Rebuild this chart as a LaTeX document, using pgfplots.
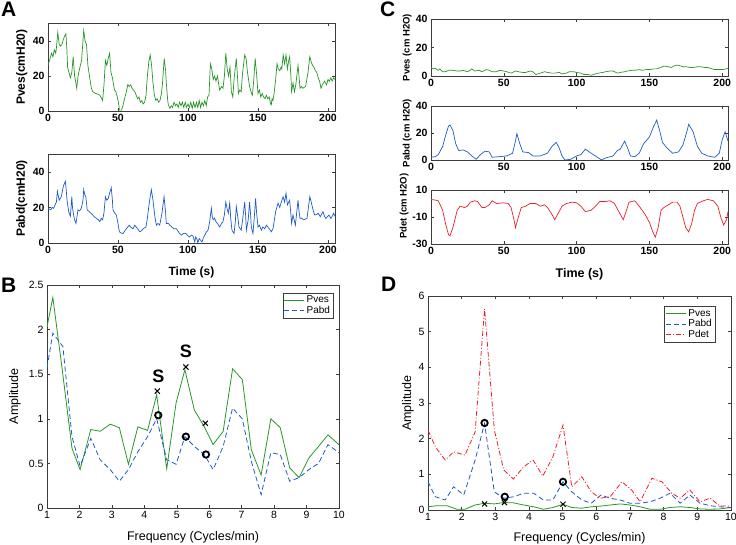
\documentclass[border=0pt]{standalone}
\usepackage{fontspec}
\setmainfont{Liberation Sans}
\usepackage{pgfplots}
\pgfplotsset{compat=1.18}

\definecolor{mgreen}{RGB}{40,150,40}
\definecolor{mblue}{RGB}{30,90,200}
\definecolor{mred}{RGB}{235,30,40}
\definecolor{axgray}{RGB}{60,60,60}

\pgfplotsset{
  mat/.style={scale only axis, axis line style={axgray, line width=0.6pt},
    tick style={axgray, line width=0.5pt}, major tick length=3pt, tick align=inside,
    /pgf/number format/assume math mode=true},
  bold/.style={mat, ticklabel style={font=\fontsize{10.5}{12}\selectfont\bfseries},
    label style={font=\fontsize{12}{14}\selectfont\bfseries}},
  boldc/.style={mat, ticklabel style={font=\fontsize{10.5}{12}\selectfont\bfseries},
    label style={font=\fontsize{9.5}{11}\selectfont\bfseries}},
  reg/.style={mat, ticklabel style={font=\fontsize{10.5}{12}\selectfont},
    label style={font=\fontsize{12.5}{14}\selectfont},
    legend style={draw=axgray, font=\fontsize{10}{11}\selectfont, inner sep=1pt,
      row sep=-2pt, cells={anchor=west}},
    legend image code/.code={\draw[##1] (0pt,0pt) -- (20pt,0pt);}},
  yl/.style={ylabel style={at={(axis description cs:#1,0.5)}, anchor=center, rotate=0}},
  xl/.style={xlabel style={at={(axis description cs:0.5,#1)}, anchor=center}},
}

\begin{document}
\begin{tikzpicture}
\path[use as bounding box] (0pt,0pt) rectangle (736pt,545pt);

% ---------- A: Pves ----------
\begin{axis}[bold, at={(48pt,521.5pt)}, anchor=north west, width=287pt, height=87.5pt,
  xmin=0, xmax=205, ymin=0, ymax=50, xtick={0,50,...,200}, ytick={0,20,40},
  ylabel={Pves(cmH20)}, yl=-0.091]
\addplot[mgreen, line width=0.7pt] coordinates {
(0,26) (1.5,30) (2.5,33) (3.5,31) (4.5,35) (5.5,33) (6,36) (7,45) (8,38) (9,37) (10,38) (11,41) (12,43) (12.8,44) (13.5,35) (14,25) (15,22) (16,19) (17,22) (18,31) (19,20) (19.5,18) (20.5,13) (21.5,20) (22.5,24) (24,29) (25.5,46) (26.5,40) (27.5,38) (28.5,26) (30,18) (31,13) (32,11) (34,10) (36,9.5) (37,9) (38.5,7) (39,6) (40,15) (41,29) (42,26) (43,30) (44,33) (45,22) (46,19) (47.5,12) (48.5,11) (49.5,8) (50.5,4) (51,0.5) (52.5,0.5) (53.5,3) (55,8) (56,11) (57,15) (58,14) (59,15) (60,13) (61,12) (62,11) (63,9) (64,7) (65,8) (66,5) (67,6) (68,4) (69,5) (70,9) (71,20) (72,28) (73,32) (74,26) (75,16) (76,9) (77,6) (78,7) (79,5) (80,6) (81,10) (81.7,15) (83,30) (84,23) (84.5,16) (85.5,6) (86,3.5) (87,1.5) (88,3) (89,2) (90,5) (91,3) (92,4) (93,2) (94,5) (95,3) (96,5) (97,2) (98,5) (99,2) (100,4) (101,2) (102,5) (103,1.5) (104,5) (105,2) (106,5) (107,2) (108,6) (109,2) (110,5) (111,3) (112,6) (113,3) (114,8) (115,9) (116,27) (117,24) (118,18) (119,20) (120,17) (121,20) (122.6,12) (124,14) (125,13) (126,20) (127,33) (128,24) (129,20) (130,25) (131,11) (132,8) (133,19) (134.5,30) (135.5,18) (136,10) (137,12) (138,11) (139,22) (140.5,32) (141.5,30) (142.5,22) (144,14) (145,11) (146,9) (147,18) (148,30) (149,21) (150,10) (151,12) (152,8) (153,10) (154,8) (155,7) (156,9) (157,7) (158,8) (159,4) (159.5,3.5) (160,7) (160.7,6) (161.5,10) (162.6,18) (163.6,27) (164.5,24) (165.5,23) (166.5,25) (167,24) (168,32) (169,27) (170,32) (171,24) (172,29) (172.6,31) (173.5,20) (174,11) (175,16) (176,11) (177,15) (178,22) (178.6,26) (179.5,18) (180,13) (181,14) (182,13) (184,14) (185.7,22) (187,31) (188,28) (189,26) (190,25) (191,23) (192,22) (193,19) (194,17) (195,13) (196,15) (197.6,17) (199,15) (200,18) (201,17) (202,19) (203,17) (204,19) (205,18)
};
\end{axis}

% ---------- A: Pabd ----------
\begin{axis}[bold, at={(48pt,391pt)}, anchor=north west, width=287pt, height=89pt,
  xmin=0, xmax=205, ymin=0, ymax=50, xtick={0,50,...,200}, ytick={0,20,40},
  ylabel={Pabd(cmH20)}, yl=-0.091, xlabel={Time (s)}, xl=-0.326]
\addplot[mblue, line width=0.7pt] coordinates {
(0,19.5) (1,19) (2,18.6) (3,20) (4,19.5) (4.8,21) (6,23) (6.7,29) (7.5,26) (8,24) (9.5,26) (10.5,30) (11,32) (12.4,34.7) (13,30) (13.6,24) (14.8,17.6) (16,15) (17,26) (17.5,20) (18.3,15.7) (19,13) (20,11) (21.4,18.6) (22.5,18) (23.8,19.5) (25,24) (25.5,30) (26.3,27) (27,26) (28,18.6) (29.5,17.6) (31,16.5) (32,15.7) (33,14.8) (34.5,13.8) (36,13) (37,12) (38,13.8) (39,13) (40,17) (41,26) (42,24) (43,25) (44,28) (45.2,31) (46,24) (46.4,18.6) (47.5,17) (48.8,15.7) (50,11) (51,6.3) (52.5,5.5) (53.6,5.3) (55,7) (56,8) (57,9) (58,10) (59,9) (60.7,8) (62,10) (63,9) (64,8) (65.5,6.3) (67,7) (68,8) (69,8.5) (70,9) (71,14) (72,20.5) (73,26) (73.8,30) (75,24) (75.5,20.5) (76.5,14) (77.4,10) (78.5,11) (79.8,10) (80.5,13) (81.4,16.7) (82.9,26) (84,17) (84.5,11) (86,11) (87,10) (88.5,9) (90,8) (91.7,8) (93,6.5) (94,5.3) (95.5,4.4) (97,5.5) (98.5,5.3) (100,4) (101,3.4) (102.5,4.4) (103.5,4) (104.8,0.6) (105.5,3.4) (106.5,2) (107,0) (108,2.5) (109,1.5) (110,0.6) (111,3) (112,4.4) (113,6) (114.3,7.2) (115.5,12) (116.7,19.5) (117.3,15) (118,13) (119,14) (120,12) (121,11) (122.6,9) (124,11) (125,12) (126,16) (127,23) (128,19) (128.8,16.7) (129.8,22.4) (130.5,14) (131.4,7.2) (132.9,5.3) (133.8,12) (134.5,20.5) (135.5,15) (136.4,9) (138,7.2) (139,13) (140.5,23) (141.2,15) (141.7,7.2) (143,13) (144,23) (144.8,15) (145.2,9) (146.4,5.3) (147.3,14) (148.3,25) (149,17) (150,9) (151,10) (152.4,7.2) (153.5,9) (154.8,8) (156,10) (157,9) (158.8,7.2) (159.5,6.3) (160.7,8) (161.5,12) (162.6,17.6) (164.3,22.4) (165.5,20) (166.7,23) (167.9,26) (169,23) (170,28) (171,21.4) (172.6,24) (173.3,18) (174,11) (175,15.7) (176.7,10) (177.5,16) (178.6,24) (179.3,18) (180,13.8) (181,14) (182.6,13) (184,13.5) (185,13.8) (186,20) (187,26) (188,23) (189.5,18) (190.5,15.7) (192,16) (193,16.7) (194.5,14.8) (196.4,17.6) (197.5,15) (198.5,13.8) (200.7,15.7) (202,13.8) (203,15) (204,16.7) (205,15)
};
\end{axis}

% ---------- C: Pves ----------
\begin{axis}[boldc, at={(431pt,526pt)}, anchor=north west, width=297pt, height=57pt,
  xmin=0, xmax=204, ymin=0, ymax=40, xtick={0,50,...,200}, ytick={0,20,40},
  ylabel={Pves (cm H2O)}, yl=-0.08]
\addplot[mgreen, line width=0.7pt] coordinates {
(0,6) (1.5,5) (3,5.5) (4,4.5) (5,4) (6,5) (8,3) (10,3) (12,4) (15,4) (18,3.5) (20,3.5) (22,4) (25,3) (27,4) (28,5) (30,3.5) (33,4) (35,3) (38,4.5) (40,4) (42,3) (45,3) (47,4) (50,3.5) (52,3) (55,2) (58,3.5) (60,3) (63,2.5) (65,2.5) (68,3.5) (70,3) (72,1) (75,2) (78,3) (80,2.5) (83,2) (85,2) (88,2.5) (90,1.5) (93,2) (95,3) (98,3) (100,2.5) (103,2) (105,1) (108,1) (110,0.5) (113,1.5) (115,2) (118,2.5) (120,3) (123,3.5) (125,3.5) (128,2) (130,2.5) (133,3) (135,3.5) (138,4) (140,4) (143,4.5) (145,4) (148,4.5) (150,4.5) (153,5) (155,5) (158,6) (160,7) (163,6.5) (165,6) (168,7.5) (170,7.5) (173,6.5) (175,6.5) (178,6) (180,6) (183,6.5) (185,6.5) (188,6) (190,6) (193,5) (195,4.5) (198,4.5) (200,4.5) (203,5) (204,5.5)
};
\end{axis}

% ---------- C: Pabd ----------
\begin{axis}[boldc, at={(431pt,439pt)}, anchor=north west, width=297pt, height=54pt,
  xmin=0, xmax=204, ymin=0, ymax=40, xtick={0,50,...,200}, ytick={0,20,40},
  ylabel={Pabd (cm H2O)}, yl=-0.08]
\addplot[mblue, line width=0.7pt] coordinates {
(0,2) (3,2.5) (5,4) (8,10) (10,18) (12,25) (13,26) (15,22) (17,12) (19,7) (22,7.5) (25,6) (28,3) (31,0.5) (34,4) (37,6.5) (40,6) (42,2) (47,2.5) (52,3) (56,5) (58,14) (59,19.5) (61,12) (63,6) (67,5.5) (70,3) (75,3) (80,5) (83,10) (86,13) (88,9) (90,3) (92,0) (96,0.5) (100,3) (103,4) (106,8) (110,5) (115,1.5) (117,0) (120,1.5) (125,3) (128,7) (130,8) (133,14) (135,9) (137,3) (140,2.5) (143,5) (146,12) (150,17) (153,25) (155,29.5) (157,22) (159,13) (162,9) (166,5) (170,6) (173,11) (176,22) (177,26.5) (180,21) (183,10) (186,5) (190,3) (195,2) (198,5) (200,15) (202,21) (204,14)
};
\end{axis}

% ---------- C: Pdet ----------
\begin{axis}[boldc, at={(431pt,355pt)}, anchor=north west, width=297pt, height=54pt,
  xmin=0, xmax=204, ymin=-30, ymax=10, xtick={0,50,...,200}, ytick={-30,-10,10},
  ylabel={Pdet (cm H2O)}, ylabel style={at={(axis description cs:-0.09,0.70)}, anchor=center},
  xlabel={Time (s)}, xl=-0.556, xlabel style={font=\fontsize{12.5}{14}\selectfont\bfseries}]
\addplot[mred, line width=0.7pt] coordinates {
(0,3) (3,2.5) (5,2) (8,-5) (10,-15) (12,-23) (13,-24) (15,-18) (18,-5) (20,-2) (23,-3) (25,-2) (27,1) (30,2) (32,1.5) (35,-3) (37,-3) (40,-1) (42,2) (45,0) (50,0.5) (53,0) (55,-3) (57,-12) (58,-18) (60,-10) (62,-3) (65,-2) (68,0) (72,0) (75,-2) (78,-1) (80,-3) (83,-8) (85,-12) (87,-8) (90,-2) (93,0) (97,1) (100,0.5) (103,-2) (106,-6) (110,-5) (113,-2) (116,1.5) (120,1.5) (123,2) (126,0) (128,-4) (130,-8) (132,-12) (134,-6) (136,1) (140,2) (143,-2) (147,-8) (150,-14) (152,-20) (154,-25) (156,-18) (158,-5) (160,-3) (163,-1) (166,1) (169,1) (171,-2) (173,-10) (175,-18) (177,-21) (179,-15) (181,-5) (183,0) (187,2) (190,3) (194,2) (197,-2) (199,-10) (201,-16) (203,-12) (204,-6)
};
\end{axis}

% ---------- B ----------
\begin{axis}[reg, at={(47pt,260pt)}, anchor=north west, width=292pt, height=223pt,
  xmin=1, xmax=10, ymin=0, ymax=2.5, xtick={1,...,10}, ytick={0,0.5,...,2.5},
  ylabel={Amplitude}, yl=-0.11, xlabel={Frequency (Cycles/min)}, xl=-0.13,
  yticklabel style={/pgf/number format/fixed},
  legend style={at={(axis description cs:0.98,0.965)}, anchor=north east}]
\addplot[mgreen, line width=0.8pt] coordinates {
(1.0,2.03) (1.18,2.36) (1.47,1.55) (1.77,0.67) (2.02,0.43) (2.35,0.88) (2.64,0.86) (2.95,0.94) (3.23,0.9) (3.51,0.49) (3.8,0.91) (4.1,0.87) (4.38,1.27) (4.69,0.44) (4.98,1.18) (5.25,1.55) (5.54,1.1) (5.85,0.91) (6.12,0.71) (6.43,0.86) (6.72,1.56) (7.02,1.44) (7.3,0.65) (7.6,0.37) (7.9,1.0) (8.19,0.9) (8.48,0.45) (8.77,0.34) (9.07,0.56) (9.37,0.69) (9.66,0.82) (10,0.71)
};
\addlegendentry{Pves}
\addplot[mblue, line width=0.8pt, dash pattern=on 5pt off 3pt] coordinates {
(1.0,1.57) (1.18,1.96) (1.49,1.81) (1.77,0.8) (2.02,0.47) (2.35,0.78) (2.64,0.54) (2.95,0.43) (3.23,0.3) (3.51,0.43) (3.8,0.63) (4.1,0.8) (4.38,1.0) (4.69,0.54) (4.98,0.49) (5.25,0.8) (5.54,0.69) (5.85,0.6) (6.12,0.43) (6.43,0.69) (6.72,1.12) (7.02,1.0) (7.3,0.52) (7.6,0.15) (7.9,0.62) (8.19,0.6) (8.48,0.3) (8.77,0.34) (9.07,0.43) (9.37,0.5) (9.66,0.71) (10,0.62)
};
\addlegendentry{Pabd}
\addplot[only marks, mark=x, mark size=3.6pt, black, line width=1pt, forget plot] coordinates {
(4.4,1.31) (5.28,1.58) (5.88,0.95)};
\addplot[only marks, mark=o, mark size=3.2pt, black, line width=1.8pt, forget plot] coordinates {
(4.43,1.04) (5.28,0.8) (5.9,0.6)};
\node[font=\fontsize{18}{19}\selectfont\bfseries] at (axis cs:4.43,1.48) {S};
\node[font=\fontsize{18}{19}\selectfont\bfseries] at (axis cs:5.28,1.76) {S};
\end{axis}

% ---------- D ----------
\begin{axis}[reg, at={(428pt,249pt)}, anchor=north west, width=303pt, height=214pt,
  xmin=1, xmax=10, ymin=0, ymax=6, xtick={1,...,10}, ytick={0,...,6},
  ylabel={Amplitude}, yl=-0.066, xlabel={Frequency (Cycles/min)}, xl=-0.131,
  legend style={at={(axis description cs:0.947,0.953)}, anchor=north east}]
\addplot[mgreen, line width=0.8pt] coordinates {
(1.0,0.09) (1.27,0.12) (1.56,0.12) (1.86,0.02) (2.1,0.02) (2.4,0.14) (2.68,0.19) (2.97,0.17) (3.25,0.21) (3.54,0.2) (3.84,0.14) (4.14,0.09) (4.43,0.02) (4.71,0.07) (5.01,0.16) (5.27,0.07) (5.57,0.05) (5.85,0.09) (6.14,0.11) (6.41,0.14) (6.71,0.17) (7.0,0.14) (7.3,0.09) (7.6,0.02) (7.89,0.02) (8.19,0.07) (8.49,0.09) (8.78,0.07) (9.08,0.03) (9.38,0.02) (9.67,0.03) (10,0.07)
};
\addlegendentry{Pves}
\addplot[mblue, line width=0.8pt, dash pattern=on 5pt off 3pt] coordinates {
(1.0,0.79) (1.22,0.37) (1.51,0.28) (1.76,0.65) (2.06,0.42) (2.4,1.4) (2.68,2.43) (2.97,0.51) (3.25,0.33) (3.54,0.37) (3.84,0.47) (4.14,0.47) (4.43,0.28) (4.71,0.28) (5.01,0.79) (5.27,0.51) (5.57,0.28) (5.85,0.19) (6.14,0.42) (6.41,0.33) (6.71,0.28) (7.0,0.19) (7.3,0.19) (7.6,0.23) (7.89,0.33) (8.19,0.47) (8.49,0.19) (8.78,0.42) (9.08,0.19) (9.38,0.12) (9.67,0.09) (10,0.07)
};
\addlegendentry{Pabd}
\addplot[mred, line width=0.8pt, dash pattern=on 5pt off 2pt on 1pt off 2pt] coordinates {
(1.0,2.24) (1.22,1.77) (1.51,1.4) (1.76,1.63) (2.1,1.54) (2.4,2.19) (2.68,5.64) (2.97,2.24) (3.25,1.12) (3.54,0.87) (3.84,1.21) (4.12,1.4) (4.41,0.95) (4.71,1.49) (5.01,2.38) (5.27,0.65) (5.57,0.93) (5.85,0.51) (6.11,0.33) (6.41,0.37) (6.76,0.79) (7.05,0.56) (7.3,0.23) (7.65,0.89) (7.95,0.79) (8.24,0.47) (8.49,0.33) (8.78,0.56) (9.08,0.23) (9.38,0.33) (9.67,0.11) (10,0.11)
};
\addlegendentry{Pdet}
\addplot[only marks, mark=x, mark size=3.6pt, black, line width=1pt, forget plot] coordinates {
(2.68,0.17) (3.27,0.21) (5.01,0.16)};
\addplot[only marks, mark=o, mark size=3.2pt, black, line width=1.8pt, forget plot] coordinates {
(2.68,2.44) (3.28,0.37) (5.01,0.79)};
\end{axis}

% panel letters
\node[anchor=base west, font=\fontsize{21}{22}\selectfont\bfseries, inner sep=0pt] at (1pt,528pt) {A};
\node[anchor=base west, font=\fontsize{21}{22}\selectfont\bfseries, inner sep=0pt] at (1pt,252pt) {B};
\node[anchor=base west, font=\fontsize{21}{22}\selectfont\bfseries, inner sep=0pt] at (380pt,528pt) {C};
\node[anchor=base west, font=\fontsize{21}{22}\selectfont\bfseries, inner sep=0pt] at (381pt,253pt) {D};
\end{tikzpicture}
\end{document}
